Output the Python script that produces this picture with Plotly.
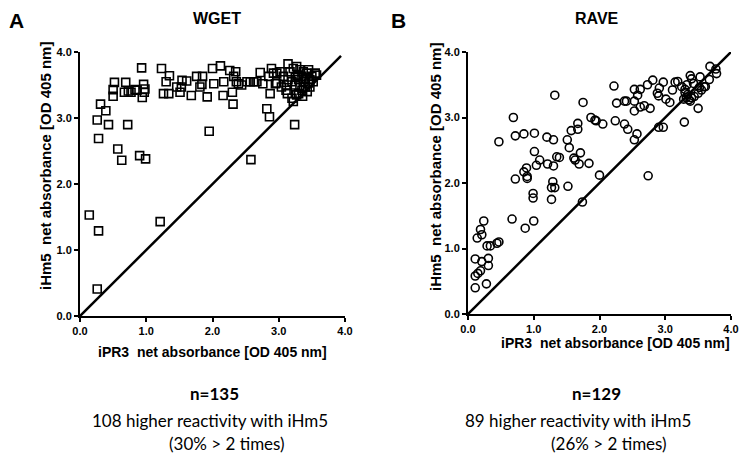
import plotly.graph_objs as go

# WGET panel (A): iPR3 vs iHm5 net absorbance
wget_x = [0.14, 0.28, 0.26, 1.21, 2.58, 1.95, 3.24,
          0.26, 0.28, 0.31, 0.39, 0.43, 0.57, 0.63, 0.72, 0.90, 0.99,
          2.82, 2.86, 2.31, 2.30, 2.87,
          0.50, 0.52, 0.50, 0.69, 0.67, 0.77, 0.83, 0.93, 0.96, 0.94, 0.98, 0.97, 0.73, 0.86,
          1.23, 1.35, 1.30, 1.26, 1.34, 1.51, 1.54, 1.61, 1.46, 1.68, 1.76, 1.85, 1.81, 1.84, 1.92, 1.53,
          2.00, 2.02, 2.12, 2.17, 2.16, 2.26, 2.35, 2.32, 2.36, 2.39, 2.44,
          2.52, 2.57, 2.62, 2.67, 2.72, 2.76, 2.85, 2.89, 2.92, 2.95,
          2.97, 3.02, 3.07, 2.97, 3.04, 3.11, 3.20, 3.22, 3.27, 3.30, 3.35, 3.40, 3.45, 3.47,
          3.50, 3.55, 3.57, 3.17, 3.22, 3.27, 3.32, 3.37, 3.42, 3.45, 3.14, 3.20, 3.25, 3.30,
          3.35, 3.40, 3.12, 3.32, 3.47, 3.52, 3.14, 3.13, 3.28, 3.38, 3.25, 3.43, 3.36]
wget_y = [1.53, 1.29, 0.41, 1.43, 2.37, 2.80, 2.90,
          2.97, 2.69, 3.21, 3.11, 2.90, 2.53, 2.36, 2.90, 2.43, 2.38,
          3.14, 3.02, 3.21, 3.39, 3.37,
          3.43, 3.54, 3.33, 3.54, 3.39, 3.39, 3.43, 3.76, 3.51, 3.31, 3.44, 3.39, 3.41, 3.42,
          3.75, 3.64, 3.55, 3.37, 3.37, 3.39, 3.57, 3.56, 3.47, 3.34, 3.63, 3.63, 3.47, 3.51, 3.32, 3.47,
          3.75, 3.52, 3.79, 3.55, 3.34, 3.72, 3.70, 3.63, 3.55, 3.52, 3.50,
          3.55, 3.55, 3.55, 3.55, 3.69, 3.52, 3.63, 3.75, 3.68, 3.52,
          3.68, 3.70, 3.63, 3.53, 3.47, 3.42, 3.30, 3.25, 3.35, 3.37, 3.42, 3.47, 3.53, 3.58,
          3.63, 3.68, 3.65, 3.70, 3.75, 3.78, 3.73, 3.70, 3.68, 3.73, 3.58, 3.55, 3.50, 3.58,
          3.63, 3.60, 3.50, 3.47, 3.47, 3.55, 3.82, 3.37, 3.65, 3.55, 3.62, 3.40, 3.33]

# RAVE panel (B)
rave_x = [0.11, 0.11, 0.15, 0.19, 0.21, 0.11, 0.31, 0.31, 0.28, 0.14, 0.19, 0.21, 0.24, 0.29, 0.34,
          0.44, 0.47, 0.67, 0.87, 1.00, 0.99, 0.99, 1.27, 1.32, 1.29, 1.27, 1.52, 1.74, 0.72, 0.90, 2.00,
          0.47, 0.69, 1.32, 1.75, 0.72, 0.85, 1.01, 1.20, 1.30, 1.51, 1.54, 1.57, 1.67, 1.67, 1.87, 1.95,
          1.01, 1.09, 1.04, 0.89, 0.85, 0.90, 1.21, 1.30, 1.35, 1.39, 1.61, 1.63, 1.71, 1.69, 1.84,
          2.22, 2.26, 2.38, 2.41, 2.53, 2.62, 2.58, 2.53, 2.53, 2.62, 2.68, 2.77, 2.73, 2.81, 2.88,
          2.90, 2.91, 2.97, 3.01, 3.07, 3.11, 3.15, 3.19, 3.25, 3.30, 3.33, 3.38, 3.40, 3.43, 3.50,
          3.55, 3.61, 3.53, 3.68, 3.77, 3.78, 3.67, 3.50, 3.29, 2.90, 2.97, 2.24, 2.38, 2.43, 2.57,
          2.53, 1.93, 2.05, 2.74, 3.28, 3.32, 3.36, 3.40, 3.34, 3.30, 3.44, 3.38, 3.52, 3.59]
rave_y = [0.40, 0.58, 0.62, 0.66, 0.80, 0.84, 0.85, 0.74, 0.46, 1.16, 1.29, 1.21, 1.42, 1.04, 1.04,
          1.08, 1.10, 1.45, 1.31, 1.42, 1.84, 1.77, 1.93, 1.93, 2.02, 1.75, 1.95, 1.71, 2.06, 2.07, 2.12,
          2.63, 3.00, 3.34, 3.23, 2.72, 2.75, 2.76, 2.70, 2.66, 2.66, 2.54, 2.80, 2.82, 2.91, 3.00, 2.95,
          2.48, 2.35, 2.27, 2.23, 2.17, 2.10, 2.29, 2.26, 2.40, 2.39, 2.38, 2.35, 2.46, 2.29, 2.30,
          3.48, 3.22, 3.25, 3.25, 3.43, 3.43, 3.34, 3.25, 3.10, 3.16, 3.18, 3.14, 3.50, 3.57, 3.37,
          3.33, 3.45, 3.54, 3.28, 3.23, 3.42, 3.54, 3.55, 3.47, 3.43, 3.50, 3.64, 3.59, 3.52, 3.37,
          3.42, 3.47, 3.62, 3.78, 3.74, 3.67, 3.58, 3.14, 2.93, 2.85, 2.85, 2.95, 2.90, 2.82, 2.75,
          2.66, 2.96, 2.90, 2.11, 3.28, 3.30, 3.27, 3.30, 3.35, 3.38, 3.32, 3.25, 3.46, 3.47]

# y = x reference lines
diag_left = [0, 3.94]
diag_right = [0, 4.02]

tick_vals = [0, 1, 2, 3, 4]
tick_labels = ['0.0', '1.0', '2.0', '3.0', '4.0']
x_title = 'iPR3  net absorbance [OD 405 nm]'
y_title = 'iHm5  net absorbance [OD 405 nm]'

# the page body adds an 8px margin, so the figure is drawn 8px smaller
# and window pixel positions are shifted by it
PAD = 8
W, H = 750 - PAD, 456 - PAD


def px_x(px):
    return (px - PAD) / W


def px_y(py):
    return 1 - (py - PAD) / H


def axis_style(domain, anchor):
    return dict(domain=domain, anchor=anchor, range=[0, 4], automargin=False,
                tickvals=tick_vals, ticktext=['<b>%s</b>' % t for t in tick_labels],
                showline=True, linecolor='black', linewidth=2, ticks='outside', ticklen=4,
                tickwidth=2, tickcolor='black', showgrid=False, zeroline=False,
                tickfont=dict(family='Arial', size=11, color='black'))


def visualize():
    fig = go.Figure()

    fig.add_trace(go.Scatter(x=wget_x, y=wget_y, mode='markers', xaxis='x', yaxis='y',
                             marker=dict(symbol='square-open', size=8, color='black',
                                         line=dict(width=1.6, color='black'))))
    fig.add_trace(go.Scatter(x=diag_left, y=diag_left, mode='lines', xaxis='x', yaxis='y',
                             line=dict(color='black', width=2.5)))
    fig.add_trace(go.Scatter(x=rave_x, y=rave_y, mode='markers', xaxis='x2', yaxis='y2',
                             marker=dict(symbol='circle-open', size=8, color='black',
                                         line=dict(width=1.6, color='black'))))
    fig.add_trace(go.Scatter(x=diag_right, y=diag_right, mode='lines', xaxis='x2', yaxis='y2',
                             line=dict(color='black', width=2.5)))

    big = dict(family='Arial', size=21, color='black')
    head = dict(family='Arial', size=16, color='black')
    ax_font = dict(family='Arial', size=15, color='black')
    x_font = dict(family='Arial', size=14, color='black')
    n_font = dict(family='Lato', size=17, color='black')
    txt = dict(family='Lato', size=17, color='black')
    notes = [
        (8, 8, '<b>A</b>', big, 'left', 0, 'top'),
        (390, 8, '<b>B</b>', big, 'left', 0, 'top'),
        (217, 19, '<b>WGET</b>', head, 'center', 0, 'middle'),
        (597, 19, '<b>RAVE</b>', head, 'center', 0, 'middle'),
        (45, 166, '<b>' + y_title + '</b>', ax_font, 'center', -90, 'middle'),
        (435, 167, '<b>' + y_title + '</b>', ax_font, 'center', -90, 'middle'),
        (212, 352, '<b>' + x_title + '</b>', x_font, 'center', 0, 'middle'),
        (615, 343, '<b>' + x_title + '</b>', x_font, 'center', 0, 'middle'),
        (215, 393, '<b>n=135</b>', n_font, 'center', 0, 'middle'),
        (210, 420, '108 higher reactivity with iHm5', txt, 'center', 0, 'middle'),
        (227, 443, '(30% &gt; 2 times)', txt, 'center', 0, 'middle'),
        (596, 393, '<b>n=129</b>', n_font, 'center', 0, 'middle'),
        (578, 420, '89 higher reactivity with iHm5', txt, 'center', 0, 'middle'),
        (609, 443, '(26% &gt; 2 times)', txt, 'center', 0, 'middle'),
    ]
    annotations = []
    for px, py, text, font, align, angle, valign in notes:
        annotations.append(dict(x=px_x(px), y=px_y(py), xref='paper', yref='paper',
                                text=text, showarrow=False, font=font, textangle=angle,
                                xanchor=align, yanchor=valign, borderpad=0))

    fig.update_layout(
        width=W, height=H,
        margin=dict(l=0, r=0, t=0, b=0),
        paper_bgcolor='white', plot_bgcolor='white',
        showlegend=False,
        xaxis=axis_style([px_x(80), px_x(345)], 'y'),
        yaxis=axis_style([px_y(316), px_y(52)], 'x'),
        xaxis2=axis_style([px_x(468), px_x(731)], 'y2'),
        yaxis2=axis_style([px_y(314), px_y(52)], 'x2'),
        annotations=annotations,
    )
    fig.write_html('out.html')


if __name__ == '__main__':
    visualize()
